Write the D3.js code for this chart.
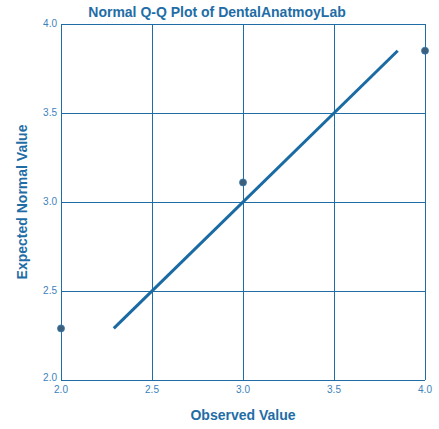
<!DOCTYPE html>
<html>
<head>
<meta charset="utf-8">
<script src="https://cdn.jsdelivr.net/npm/d3@7"></script>
<style>
  body { margin: 0; background: #fff; }
  svg { display: block; font-family: "Liberation Sans", Arial, sans-serif; }
</style>
</head>
<body>
<svg id="chart" width="439" height="429"></svg>
<script>
// observed values and expected normal values
const observed = [2.0, 3.0, 4.0];
const expected = [2.29, 3.11, 3.85];
const xTicks = [2.0, 2.5, 3.0, 3.5, 4.0];
const yTicks = [2.0, 2.5, 3.0, 3.5, 4.0];

const svg = d3.select('#chart');
const plotLeft = 61, plotRight = 425, plotTop = 24, plotBottom = 380;

const x = d3.scaleLinear().domain([2, 4]).range([plotLeft, plotRight]);
const y = d3.scaleLinear().domain([2, 4]).range([plotBottom, plotTop]);

const blue = '#1f6da6';
const tickColor = '#3b82bb';

// grid
xTicks.forEach(t => {
    svg.append('line')
        .attr('x1', x(t)).attr('x2', x(t))
        .attr('y1', plotTop).attr('y2', plotBottom)
        .attr('stroke', blue).attr('stroke-width', 1).attr('shape-rendering', 'crispEdges');
});
yTicks.forEach(t => {
    svg.append('line')
        .attr('x1', plotLeft).attr('x2', plotRight)
        .attr('y1', y(t)).attr('y2', y(t))
        .attr('stroke', blue).attr('stroke-width', 1).attr('shape-rendering', 'crispEdges');
});

// tick labels
xTicks.forEach(t => {
    svg.append('text')
        .attr('x', x(t)).attr('y', 393)
        .attr('text-anchor', 'middle')
        .attr('font-size', '10px').attr('fill', tickColor)
        .text(t.toFixed(1));
});
yTicks.forEach(t => {
    svg.append('text')
        .attr('x', 57).attr('y', y(t) + (t === 2 ? 1 : 3))
        .attr('text-anchor', 'end')
        .attr('font-size', '10px').attr('fill', tickColor)
        .text(t.toFixed(1));
});

// reference line from min to max expected
const lo = d3.min(expected), hi = d3.max(expected);
svg.append('line')
    .attr('x1', x(lo)).attr('y1', y(lo))
    .attr('x2', x(hi)).attr('y2', y(hi))
    .attr('stroke', '#1a6aa3').attr('stroke-width', 3);

// points
observed.forEach((v, i) => {
    svg.append('circle')
        .attr('cx', x(v)).attr('cy', y(expected[i]))
        .attr('r', 3.5)
        .attr('fill', '#3e5f7a')
        .attr('stroke', '#2f78b0').attr('stroke-width', 0.8);
});

// titles
svg.append('text')
    .attr('x', 217).attr('y', 17)
    .attr('text-anchor', 'middle')
    .attr('font-size', '14px').attr('font-weight', 'bold').attr('fill', blue)
    .text('Normal Q-Q Plot of DentalAnatmoyLab');

svg.append('text')
    .attr('x', 243).attr('y', 420)
    .attr('text-anchor', 'middle')
    .attr('font-size', '14px').attr('font-weight', 'bold').attr('fill', blue)
    .text('Observed Value');

svg.append('text')
    .attr('transform', 'translate(27,202) rotate(-90)')
    .attr('text-anchor', 'middle')
    .attr('font-size', '14px').attr('font-weight', 'bold').attr('fill', blue)
    .text('Expected Normal Value');
</script>
</body>
</html>
